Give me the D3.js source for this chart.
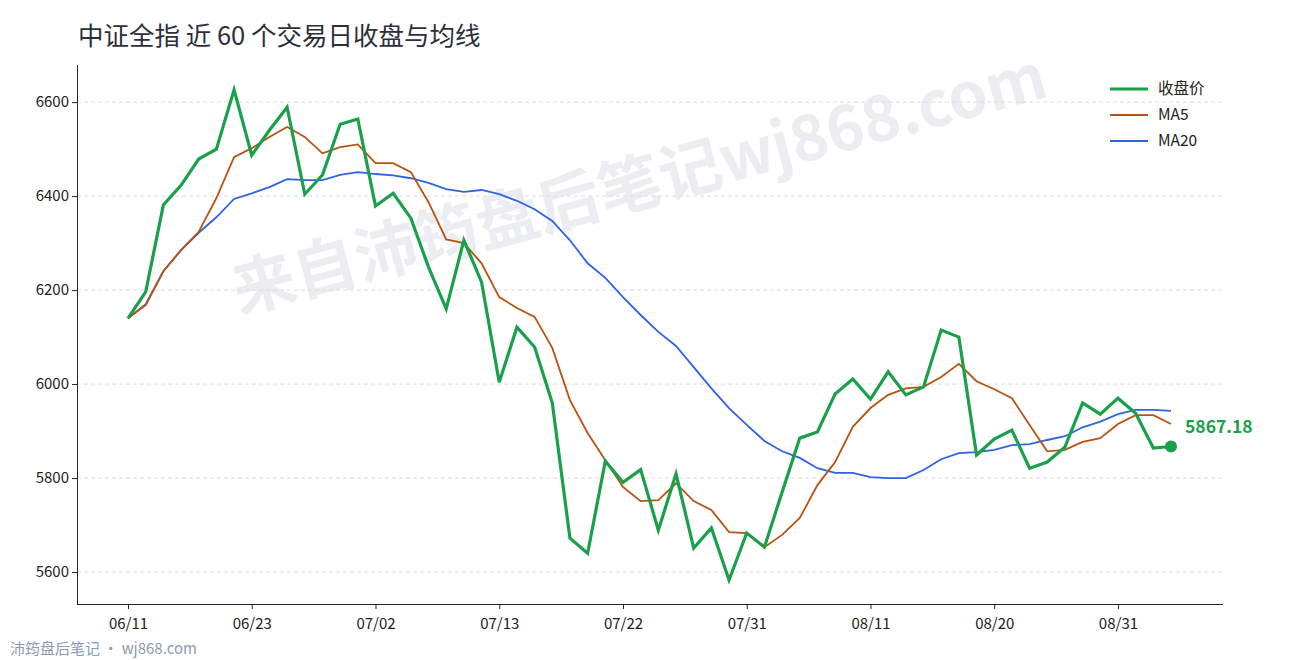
<!DOCTYPE html>
<html><head><meta charset="utf-8">
<script src="https://cdn.jsdelivr.net/npm/d3@7"></script>
<style>body{margin:0;background:#fff;font-family:"Noto Sans CJK SC","Noto Sans",sans-serif}</style>
</head><body><svg id="c" width="1290" height="660"></svg>
<script>
const dates=["06/11","06/12","06/13","06/16","06/17","06/18","06/20","06/23","06/24","06/25","06/26","06/27","06/30","07/01","07/02","07/03","07/04","07/07","07/08","07/09","07/10","07/13","07/14","07/15","07/16","07/17","07/18","07/21","07/22","07/23","07/24","07/25","07/28","07/29","07/30","07/31","08/01","08/04","08/05","08/06","08/07","08/08","08/11","08/12","08/13","08/14","08/15","08/18","08/19","08/20","08/21","08/22","08/25","08/26","08/27","08/28","08/31","09/01","09/02","09/03"];
const close=[6140,6196,6381,6423,6479,6500,6626,6487,6540,6589,6404,6445,6553,6564,6379,6406,6353,6249,6160,6306,6217,6004,6121,6079,5960,5672,5640,5836,5791,5818,5689,5809,5651,5694,5583,5683,5653,5770,5885,5898,5979,6011,5968,6026,5977,5994,6115,6100,5849,5883,5902,5821,5834,5866,5960,5936,5970,5938,5864,5867.18];
const ma5=[6140,6168,6240,6285,6324,6396,6483,6502,6526,6547,6526,6491,6504,6510,6470,6470,6451,6387,6308,6300,6257,6185,6162,6143,6077,5966,5896,5838,5781,5751,5753,5789,5751,5732,5685,5683,5653,5679,5715,5785,5834,5909,5949,5977,5991,5994,6015,6043,6006,5989,5970,5913,5857,5860,5877,5885,5915,5934,5934,5915];
const ma20=[6140,6170,6240,6285,6322,6355,6394,6406,6419,6436,6434,6434,6445,6451,6447,6444,6438,6428,6415,6409,6413,6404,6390,6372,6347,6306,6257,6226,6185,6147,6111,6081,6036,5991,5949,5913,5879,5857,5843,5821,5811,5811,5802,5800,5800,5817,5840,5853,5855,5860,5870,5872,5881,5889,5908,5920,5936,5945,5945,5943];
const yTicks=[5600,5800,6000,6200,6400,6600];
const xTicks=["06/11","06/23","07/02","07/13","07/22","07/31","08/11","08/20","08/31"];

const svg=d3.select("#c");
const x=d3.scalePoint().domain(dates).range([128,1171]);
const y=d3.scaleLinear().domain([5532,6679]).range([604,65]);
svg.append("text").attr("transform","translate(645,205) rotate(-15)").attr("text-anchor","middle")
 .attr("font-size",63).attr("font-weight","bold").attr("fill","#e6e8ef").attr("opacity",0.75)
 .text("来自沛筠盘后笔记wj868.com");
svg.append("g").selectAll("line").data(yTicks).join("line")
 .attr("x1",77).attr("x2",1223).attr("y1",d=>y(d)).attr("y2",d=>y(d))
 .attr("stroke","#dddddd").attr("stroke-dasharray","4,3");
const ya=svg.append("g").attr("transform","translate(77,0)").call(d3.axisLeft(y).tickValues(yTicks).tickFormat(d3.format("d")).tickSize(5).tickSizeOuter(0));
const xa=svg.append("g").attr("transform","translate(0,604)").call(d3.axisBottom(x).tickValues(xTicks).tickSize(5).tickSizeOuter(0));
xa.select(".domain").attr("d","M77,0.5H1223");
ya.select(".domain").attr("d","M0.5,65V604");
svg.selectAll(".tick text").attr("font-size",15).attr("fill","#222").attr("font-family","Noto Sans CJK SC");
xa.selectAll(".tick text").attr("dy","1.1em");
svg.selectAll(".domain,.tick line").attr("stroke","#222");
const line=d=>d3.line().x((v,i)=>x(dates[i])).y(v=>y(v))(d);
svg.append("path").attr("d",line(ma20)).attr("fill","none").attr("stroke","#2f63e6").attr("stroke-width",1.8);
svg.append("path").attr("d",line(ma5)).attr("fill","none").attr("stroke","#b8530f").attr("stroke-width",1.8);
svg.append("path").attr("d",line(close)).attr("fill","none").attr("stroke","#1aa04a").attr("stroke-width",3.2);
const li=close.length-1;
svg.append("circle").attr("cx",x(dates[li])).attr("cy",y(close[li])).attr("r",6).attr("fill","#1aa04a");
svg.append("text").attr("x",x(dates[li])+14).attr("y",y(close[li])-13).attr("font-size",17.5).attr("font-weight","bold")
 .attr("fill","#1aa04a").text(close[li].toFixed(2));
svg.append("text").attr("x",78).attr("y",45).attr("font-size",25.5).attr("fill","#2b2f3a").text("中证全指 近 60 个交易日收盘与均线");
const leg=[["收盘价","#1aa04a",3.2],["MA5","#b8530f",1.8],["MA20","#2f63e6",1.8]];
leg.forEach((d,i)=>{const yy=89+i*26;
 svg.append("line").attr("x1",1110).attr("x2",1148).attr("y1",yy).attr("y2",yy).attr("stroke",d[1]).attr("stroke-width",d[2]);
 svg.append("text").attr("x",1158).attr("y",yy+5).attr("font-size",15.5).attr("fill","#222").text(d[0]);});
svg.append("text").attr("x",10).attr("y",654).attr("font-size",15).attr("fill","#8a9bb8").text("沛筠盘后笔记 · wj868.com");
</script></body></html>
